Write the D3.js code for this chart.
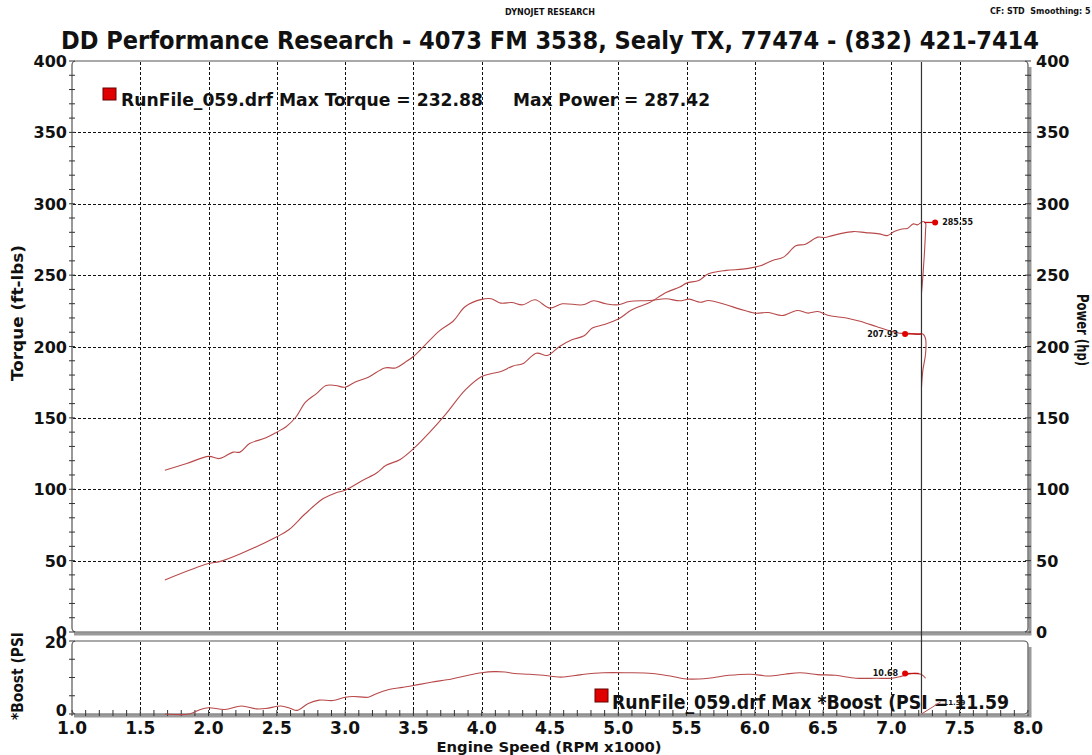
<!DOCTYPE html>
<html>
<head>
<meta charset="utf-8">
<script src="https://cdn.jsdelivr.net/npm/d3@7"></script>
<style>
  body { margin: 0; background: #fff; }
  text { font-family: "DejaVu Sans", Verdana, sans-serif; font-weight: bold; fill: #111; }
  .cond { font-family: "DejaVu Sans Condensed", "DejaVu Sans", sans-serif; }
</style>
</head>
<body>
<div id="chart"></div>
<script>
// engine speed (RPM x1000) / torque (ft-lbs)
var torqueRpm = [1.68, 1.84, 2.00, 2.08, 2.18, 2.23, 2.30, 2.42, 2.50, 2.57, 2.64, 2.71, 2.79, 2.86, 2.93, 3.00,
  3.07, 3.17, 3.29, 3.37, 3.44, 3.50, 3.57, 3.69, 3.79, 3.88, 4.00, 4.07, 4.14, 4.22, 4.30, 4.39, 4.50,
  4.59, 4.74, 4.82, 4.91, 5.00, 5.08, 5.23, 5.35, 5.45, 5.52, 5.60, 5.66, 5.79, 5.89, 6.00, 6.10, 6.20,
  6.31, 6.39, 6.46, 6.54, 6.67, 6.77, 6.89, 6.98, 7.06, 7.13, 7.20, 7.23, 7.25, 7.25, 7.23, 7.22];
var torqueVal = [113.3, 118, 123, 121.5, 126, 126, 132, 136, 140, 144, 150.6, 161, 167, 172.7, 172.7, 171.5,
  175, 178.5, 185, 185, 189, 193, 199.5, 211, 217.7, 228, 233, 233.4, 230.4, 230.8, 229.2, 232.7, 226.9,
  229.9, 229.2, 232, 229.9, 229.2, 231.5, 232.2, 233.4, 232, 233.2, 231, 232.2, 229.2, 226.2, 223.4, 223.8, 221.7,
  225.2, 223.4, 224.5, 221.7, 220, 217.7, 214, 211.2, 209.3, 209.3, 208.4, 208.8, 205.3, 194.9, 183.3, 171.2];

// engine speed / power (hp)
var powerRpm = [1.68, 2.00, 2.08, 2.23, 2.50, 2.59, 2.71, 2.84, 2.93, 3.00, 3.13, 3.23, 3.30, 3.40, 3.50, 3.62,
  3.74, 3.88, 4.00, 4.06, 4.14, 4.23, 4.30, 4.40, 4.48, 4.57, 4.66, 4.75, 4.81, 4.89, 5.00, 5.10, 5.23,
  5.35, 5.45, 5.50, 5.59, 5.66, 5.79, 5.91, 6.00, 6.04, 6.13, 6.21, 6.30, 6.37, 6.46, 6.51, 6.56, 6.62,
  6.72, 6.81, 6.91, 6.97, 7.02, 7.07, 7.12, 7.16, 7.19, 7.23, 7.25, 7.25, 7.24, 7.23, 7.22];
var powerVal = [36.5, 48, 49.3, 54.7, 66.7, 71.8, 83, 93.5, 97.4, 99.3, 106.3, 111.4, 116.8, 120.7, 128.4, 140,
  153, 169.6, 179, 180.8, 182.5, 186.4, 187.9, 195.3, 193.7, 200, 204.7, 207.5, 212.9, 215.2, 219.2, 225.7, 230.8,
  237.9, 241.6, 244.4, 246.3, 250.9, 253.3, 254.2, 255.6, 256.5, 260.3, 262.6, 270.5, 271.7, 276.6, 276.4, 277.5, 278.9,
  280.5, 279.8, 278.9, 277.7, 280.5, 282.2, 282.9, 285.9, 285.2, 287.6, 286.4, 281.7, 262.9, 248.8, 237.1];

// engine speed / boost (PSI)
var boostRpm = [1.68, 1.86, 1.94, 2.00, 2.12, 2.24, 2.35, 2.42, 2.53, 2.60, 2.65, 2.73, 2.81, 2.91, 3.00, 3.06,
  3.17, 3.22, 3.32, 3.42, 3.50, 3.63, 3.78, 3.91, 4.00, 4.09, 4.17, 4.24, 4.35, 4.45, 4.58, 4.73, 4.89,
  5.07, 5.25, 5.38, 5.50, 5.66, 5.81, 5.97, 6.10, 6.22, 6.33, 6.46, 6.59, 6.74, 6.89, 7.00, 7.07, 7.15,
  7.22, 7.25];
var boostVal = [0, 0, 1.25, 1.7, 1.25, 2.2, 1.4, 1.5, 2.2, 1.5, 1.0, 2.9, 3.8, 3.7, 4.6, 4.8,
  4.6, 5.4, 6.7, 7.3, 7.8, 8.7, 9.6, 10.7, 11.3, 11.6, 11.5, 11.1, 10.9, 10.6, 10.1, 10.8, 11.3,
  11.3, 11.1, 10.4, 9.6, 9.8, 10.6, 10.9, 10.4, 10.9, 11.3, 10.8, 10.6, 9.8, 9.8, 9.8, 10.3, 11.1,
  10.8, 9.8];

var xTicks = [1.0, 1.5, 2.0, 2.5, 3.0, 3.5, 4.0, 4.5, 5.0, 5.5, 6.0, 6.5, 7.0, 7.5, 8.0];
var yTicks = [0, 50, 100, 150, 200, 250, 300, 350, 400];
var boostTicks = [0, 20];

var titleText = "DD Performance Research - 4073 FM 3538, Sealy TX, 77474 - (832) 421-7414";
var legendTorque = "RunFile_059.drf Max Torque = 232.88";
var legendPower = "Max Power = 287.42";
var legendBoost = "RunFile_059.drf Max *Boost (PSI = 11.59";
// marker labels: [rpm, value, label]
var powerMark = [7.32, 286.9, "285.55"];
var torqueMark = [7.10, 208.8, "207.93"];
var boostMark = [7.10, 11.1, "10.68"];
var cursorRpm = 7.22;

var W = 1092, H = 755;
var curveColor = "#b8494a";

var svg = d3.select("#chart").append("svg")
  .attr("width", W).attr("height", H);
svg.append("rect").attr("width", W).attr("height", H).attr("fill", "#fff");

var x = d3.scaleLinear().domain([1, 8]).range([72, 1028]);
var y = d3.scaleLinear().domain([0, 400]).range([632, 61]);
var yb = d3.scaleLinear().domain([0, 20]).range([714, 641]);

// header texts
svg.append("text").attr("x", 550).attr("y", 15).attr("text-anchor", "middle")
  .attr("font-size", 8).text("DYNOJET RESEARCH");
svg.append("text").attr("x", 990).attr("y", 14)
  .attr("font-size", 8).attr("xml:space", "preserve").text("CF: STD  Smoothing: 5");
svg.append("text").attr("class", "cond").attr("x", 550).attr("y", 49).attr("text-anchor", "middle")
  .attr("font-size", 25).attr("textLength", 978).attr("lengthAdjust", "spacingAndGlyphs")
  .text(titleText);

// panel frames with shadow
function panel(top, bottom) {
  var l = x.range()[0], r = x.range()[1];
  svg.append("path")
    .attr("d", "M" + (r + 2) + "," + (top + 6) + " L" + (r + 2) + "," + (bottom + 2) + " L" + (l + 2) + "," + (bottom + 2))
    .attr("fill", "none").attr("stroke", "#9a9a9a").attr("stroke-width", 3);
  svg.append("rect").attr("x", l).attr("y", top).attr("width", r - l).attr("height", bottom - top)
    .attr("rx", 4).attr("fill", "#fff").attr("stroke", "#555").attr("stroke-width", 1.2);
}
panel(61, 632);
panel(641, 714);

// grid
var grid = svg.append("g").attr("stroke", "#111").attr("stroke-width", 1).attr("stroke-dasharray", "3,2");
grid.selectAll(".vg").data(xTicks.slice(1, -1)).enter().append("line")
  .attr("x1", d => Math.round(x(d)) + 0.5).attr("x2", d => Math.round(x(d)) + 0.5)
  .attr("y1", 62).attr("y2", 631);
grid.selectAll(".vb").data(xTicks.slice(1, -1)).enter().append("line")
  .attr("x1", d => Math.round(x(d)) + 0.5).attr("x2", d => Math.round(x(d)) + 0.5)
  .attr("y1", 642).attr("y2", 713);
grid.selectAll(".hg").data(yTicks.slice(1, -1)).enter().append("line")
  .attr("x1", 73).attr("x2", 1027)
  .attr("y1", d => Math.round(y(d)) + 0.5).attr("y2", d => Math.round(y(d)) + 0.5);

// axes ticks
var tickG = svg.append("g").attr("stroke", "#333").attr("stroke-width", 1);
d3.range(0, 401, 10).forEach(function (v) {
  tickG.append("line").attr("x1", 69).attr("x2", 75).attr("y1", y(v)).attr("y2", y(v));
  tickG.append("line").attr("x1", 1025).attr("x2", 1031).attr("y1", y(v)).attr("y2", y(v));
});
d3.range(0, 21, 5).forEach(function (v) {
  tickG.append("line").attr("x1", 69).attr("x2", 75).attr("y1", yb(v)).attr("y2", yb(v));
});
d3.range(10, 81, 1).forEach(function (v) {
  var r = v / 10;
  tickG.append("line").attr("x1", x(r)).attr("x2", x(r)).attr("y1", 710).attr("y2", 716);
});

// tick labels
svg.selectAll(".yl").data(yTicks).enter().append("text")
  .attr("x", 67).attr("y", d => y(d) + 6).attr("text-anchor", "end").attr("font-size", 16)
  .text(d => d);
svg.selectAll(".yr").data(yTicks).enter().append("text")
  .attr("x", 1036).attr("y", d => y(d) + 6).attr("font-size", 16)
  .text(d => d);
svg.selectAll(".yb").data(boostTicks).enter().append("text")
  .attr("x", 67).attr("y", d => yb(d) + (d === 0 ? 2 : 7)).attr("text-anchor", "end").attr("font-size", 16)
  .text(d => d);
svg.selectAll(".xl").data(xTicks).enter().append("text")
  .attr("x", d => x(d)).attr("y", 734).attr("text-anchor", "middle").attr("font-size", 17)
  .text(d => d.toFixed(1));

// axis titles
svg.append("text").attr("x", 549).attr("y", 752).attr("text-anchor", "middle")
  .attr("font-size", 14).attr("textLength", 225).attr("lengthAdjust", "spacingAndGlyphs")
  .text("Engine Speed (RPM x1000)");
svg.append("text").attr("transform", "translate(23,313) rotate(-90)").attr("text-anchor", "middle")
  .attr("font-size", 15).attr("textLength", 136).attr("lengthAdjust", "spacingAndGlyphs")
  .text("Torque (ft-lbs)");
svg.append("text").attr("transform", "translate(1077,330) rotate(90)").attr("text-anchor", "middle")
  .attr("font-size", 15).attr("textLength", 72).attr("lengthAdjust", "spacingAndGlyphs")
  .text("Power (hp)");
svg.append("text").attr("transform", "translate(23,676) rotate(-90)").attr("text-anchor", "middle")
  .attr("font-size", 15).attr("textLength", 88).attr("lengthAdjust", "spacingAndGlyphs")
  .text("*Boost (PSI");

// curves
var line = d3.line().curve(d3.curveCatmullRom.alpha(0.5));
function drawCurve(rpms, vals, ys) {
  var pts = rpms.map((r, i) => [x(r), ys(vals[i])]);
  svg.append("path").attr("d", line(pts)).attr("fill", "none")
    .attr("stroke", curveColor).attr("stroke-width", 1.1).attr("stroke-linejoin", "round");
}
drawCurve(torqueRpm, torqueVal, y);
drawCurve(powerRpm, powerVal, y);
drawCurve(boostRpm, boostVal, yb);

// cursor line
svg.append("line").attr("x1", x(cursorRpm)).attr("x2", x(cursorRpm)).attr("y1", 62).attr("y2", 713)
  .attr("stroke", "#333").attr("stroke-width", 1.2);

// markers
function marker(m, ys, lineFrom, anchor, dx, size) {
  if (lineFrom) {
    svg.append("line").attr("x1", x(lineFrom)).attr("x2", x(m[0])).attr("y1", ys(m[1])).attr("y2", ys(m[1]))
      .attr("stroke", "#c01010").attr("stroke-width", 1.3);
  }
  svg.append("circle").attr("cx", x(m[0])).attr("cy", ys(m[1])).attr("r", 3).attr("fill", "#e00000");
  svg.append("text").attr("x", x(m[0]) + dx).attr("y", ys(m[1]) + 3).attr("text-anchor", anchor)
    .attr("font-size", size).attr("fill", "#222").text(m[2]);
}
marker(powerMark, y, 7.24, "start", 7, 8);
marker(torqueMark, y, 7.22, "end", -7, 8);
marker(boostMark, yb, 7.2, "end", -7, 8);

// legends
svg.append("rect").attr("x", 103).attr("y", 88).attr("width", 13).attr("height", 12)
  .attr("fill", "#e00000").attr("stroke", "#600").attr("stroke-width", 1);
svg.append("text").attr("class", "cond").attr("x", 121).attr("y", 106).attr("font-size", 18)
  .attr("textLength", 362).attr("lengthAdjust", "spacingAndGlyphs").text(legendTorque);
svg.append("text").attr("class", "cond").attr("x", 513).attr("y", 106).attr("font-size", 18)
  .attr("textLength", 197).attr("lengthAdjust", "spacingAndGlyphs").text(legendPower);

svg.append("rect").attr("x", 595).attr("y", 689).attr("width", 13).attr("height", 13)
  .attr("fill", "#e00000").attr("stroke", "#600").attr("stroke-width", 1);
svg.append("text").attr("class", "cond").attr("x", 612).attr("y", 709).attr("font-size", 19)
  .attr("textLength", 397).attr("lengthAdjust", "spacingAndGlyphs").text(legendBoost);
// small max-boost tag overlapping the legend
svg.append("line").attr("x1", x(7.22)).attr("y1", yb(0)).attr("x2", x(7.36)).attr("y2", yb(3.3))
  .attr("stroke", curveColor).attr("stroke-width", 1);
svg.append("text").attr("x", x(7.38)).attr("y", yb(3.3) + 3).attr("font-size", 7).attr("fill", "#444")
  .text("11.59");
</script>
</body>
</html>
